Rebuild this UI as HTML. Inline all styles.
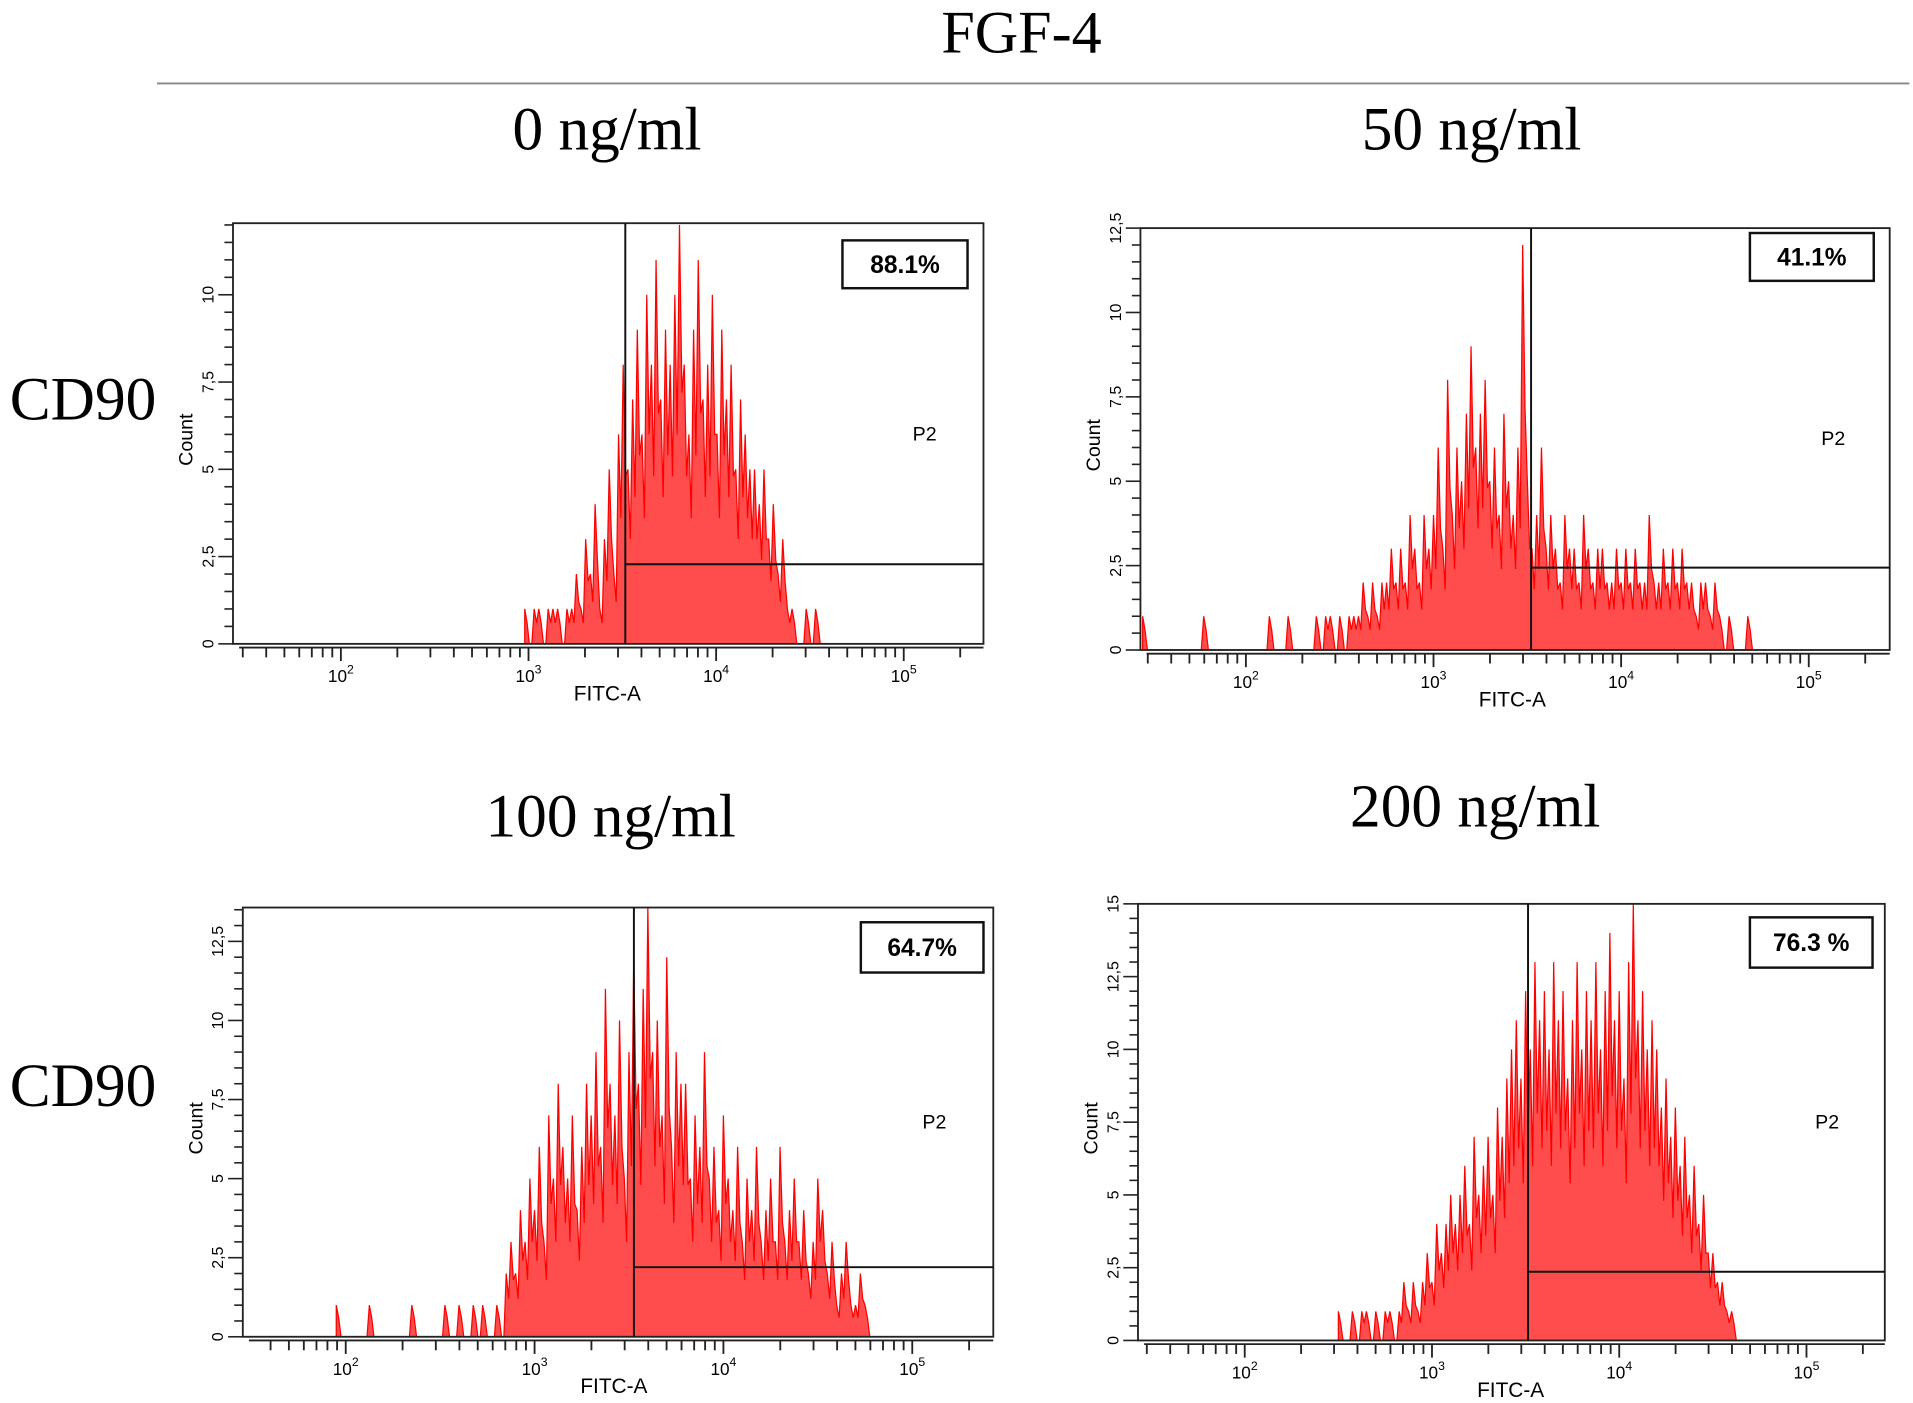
<!DOCTYPE html>
<html><head><meta charset="utf-8"><style>
html,body{margin:0;padding:0;background:#fff;width:1913px;height:1403px;overflow:hidden}
svg{display:block}
</style></head><body>
<svg id="fig" width="1913" height="1403" viewBox="0 0 1560 1144" preserveAspectRatio="none" xmlns="http://www.w3.org/2000/svg">
<text x="833" y="43" font-family="Liberation Serif, serif" font-size="49" text-anchor="middle">FGF-4</text>
<line x1="128" y1="68" x2="1557" y2="68" stroke="#888" stroke-width="1.5"/>
<text x="495" y="122" font-family="Liberation Serif, serif" font-size="50" text-anchor="middle">0 ng/ml</text>
<text x="1200" y="122" font-family="Liberation Serif, serif" font-size="50" text-anchor="middle">50 ng/ml</text>
<text x="498" y="682" font-family="Liberation Serif, serif" font-size="50" text-anchor="middle">100 ng/ml</text>
<text x="1203" y="674" font-family="Liberation Serif, serif" font-size="50" text-anchor="middle">200 ng/ml</text>
<text x="8" y="342" font-family="Liberation Serif, serif" font-size="50">CD90</text>
<text x="8" y="902" font-family="Liberation Serif, serif" font-size="50">CD90</text>
<g id="panels"></g>
</svg>
<script>
// histogram data: start log10, bin step 0.025 decades
const p1Start = 2.98;
const p1Counts = [1,0,1,1,0,1,1,1,0,1, 1,2,1,3,2,4,1,3,5,2, 6,8,5,7,9,6,10,8,11,7, 9,8,10,12,8,6,9,11,7,8, 10,6,9,7,8,5,7,6,5,5, 4,5,3,4,2,3,1,1,0,0, 1,0,1,0];
const p2Start = 1.45;
const p2Counts = [1,0,0,0,0,0,0,0,0,0, 0,0,0,1,0,0,0,0,0,0, 0,0,0,0,0,0,0,1,0,0, 0,1,0,0,0,0,0,1,0,1, 1,0,1,0,1,1,
 1,2,1,2,1,2,2,3,2,3,2,4,3,2,4,3,
 4,6,3,8,4,6,5,7,9,6,7,8,5,6,4,7,5,4,6,12,
 5,3,4,6,3,4,3,2,4,3,3,2,4,3,2,3,3,2,2,3,
 2,3,2,3,2,2,4,2,2,3,2,3,2,3,2,2,1,2,2,1,2,1,0,1,0,0,0,1];
const p3Start = 1.95;
const p3Counts = [1,0,0,0,0,0,0,1,0,0, 0,0,0,0,0,0,1,0,0,0, 0,0,0,1,0,0,1,0,0,1, 0,1,0,0,1,0,
 2,3,2,4,3,5,4,6,3,7,5,8,6,5,7,4,6,8,
 7,9,6,11,8,7,10,5,9,12,8,11,13.6,9,10,7,12,6,9,8,
 8,5,7,6,9,5,6,4,7,5,4,6,3,5,4,6,3,4,5,3,
 6,3,4,5,3,4,2,3,5,4,2,3,1,2,3,1,1,2,1,0];
const p4Start = 2.5;
const p4Counts = [1,0,0,1,0,1,1,0,1,0,1,1,0,1,2,1,2,1,
 2,3,2,4,3,4,5,4,5,6,4,7,5,6,7,5,8,7,9,10,
 11,9,12,10,13,11,12,10,13,11,12,9,11,13,10,12,11,13,10,12,14,11,12,9,13,15,11,12,10,11,
 10,8,9,7,8,6,7,5,6,4,5,3,3,2,2,1,1,0];
const yTicks = [0,2.5,5,7.5,10,12.5,15];
const yTickLabels = ["0","2,5","5","7,5","10","12,5","15"];
const percents = ["88.1%","41.1%","64.7%","76.3 %"];
const gateLog = [3.516,3.52,3.526,3.513];
const gateCount = [2.28,2.44,2.2,2.36];

const NS="http://www.w3.org/2000/svg";
const g=document.getElementById('panels');
function mk(tag,attrs,parent){const e=document.createElementNS(NS,tag);for(const k in attrs)e.setAttribute(k,attrs[k]);(parent||g).appendChild(e);return e;}
const panels=[
 {x:190,y:182,w:612,h:343,lo:1.425,dec:153,ymax:12.05,start:p1Start,counts:p1Counts,box:[687,196,102,39],p2:[754,359]},
 {x:930,y:186,w:611,h:344,lo:1.438,dec:153,ymax:12.5,start:p2Start,counts:p2Counts,box:[1427,190,101,39],p2:[1495,363]},
 {x:198,y:740,w:612,h:350,lo:1.455,dec:154,ymax:13.57,start:p3Start,counts:p3Counts,box:[702,752,100,41],p2:[762,920]},
 {x:928,y:737,w:609,h:356,lo:1.43,dec:152.7,ymax:15,start:p4Start,counts:p4Counts,box:[1427,748,100,41],p2:[1490,920]}
];
panels.forEach((p,i)=>{
 const pg=mk('g',{});
 
 
 const X=l=>p.x+(l-p.lo)*p.dec;
 const Y=c=>p.y+p.h-c/p.ymax*p.h;
 let pts=[];
 const step=0.025;
 pts.push([X(p.start),Y(0)]);
 p.counts.forEach((c,j)=>{const l=p.start+j*step;pts.push([X(l),Y(c)]);pts.push([X(l+step*0.5),Y(c*0.6)]);});
 pts.push([X(p.start+p.counts.length*step),Y(0)]);
 const hist=mk('polygon',{points:pts.map(q=>q[0].toFixed(1)+','+q[1].toFixed(1)).join(' '),fill:'#ff4d4d',stroke:'#ff0000','stroke-width':1,'stroke-linejoin':'miter'},pg);
 
 
 const fr=mk('rect',{x:p.x,y:p.y,width:p.w,height:p.h,fill:'none',stroke:'#222','stroke-width':1.5},pg);
 
 
 const gx=X(gateLog[i]);
 const gl=mk('path',{d:`M${gx},${p.y} V${p.y+p.h} M${gx},${Y(gateCount[i])} H${p.x+p.w}`,stroke:'#111','stroke-width':1.6,fill:'none'},pg);
 
 
 for(let d=1;d<=5;d++)for(let k=1;k<=9;k++){const l=d+Math.log10(k);if(l<p.lo+0.03||l>p.lo+p.w/p.dec)continue;const tx=X(l);
  mk('line',{x1:tx,y1:p.y+p.h+3,x2:tx,y2:p.y+p.h+(k==1?14:11),stroke:'#222','stroke-width':1.5},pg);
  if(k==1&&d>=2){const t=mk('text',{x:tx,y:p.y+p.h+31,'font-family':'Liberation Sans, sans-serif','font-size':14,'text-anchor':'middle'},pg);t.textContent='10';
   
   const s=mk('tspan',{dy:-7,'font-size':10},t);s.textContent=String(d);}
 }
 mk('line',{x1:p.x+5,y1:p.y+p.h+3,x2:p.x+p.w,y2:p.y+p.h+3,stroke:'#222','stroke-width':1.5},pg);
 for(let v=0;v<=p.ymax;v+=0.5){const ty=Y(v);const major=Math.abs(v/2.5-Math.round(v/2.5))<1e-6;
  mk('line',{x1:p.x-(major?12:7),y1:ty,x2:p.x,y2:ty,stroke:'#222','stroke-width':1.3},pg);}
 yTicks.forEach((v,j)=>{if(v>p.ymax+0.01)return;const ty=Y(v);
  const t=mk('text',{x:0,y:0,transform:`translate(${p.x-16},${ty}) rotate(-90)`,'font-family':'Liberation Sans, sans-serif','font-size':13,'text-anchor':'middle'},pg);
  t.textContent=yTickLabels[j];
  });
 const cy=mk('text',{transform:`translate(${p.x-33},${p.y+p.h/2+5}) rotate(-90)`,'font-family':'Liberation Sans, sans-serif','font-size':16,'text-anchor':'middle'},pg);
 cy.textContent='Count';
 
 const xt=mk('text',{x:X(3.42),y:p.y+p.h+46,'font-family':'Liberation Sans, sans-serif','font-size':17,'text-anchor':'middle'},pg);
 xt.textContent='FITC-A';
 
 const b=p.box;
 const br=mk('rect',{x:b[0],y:b[1],width:b[2],height:b[3],fill:'#fff',stroke:'#111','stroke-width':2},pg);
 
 const bt=mk('text',{x:b[0]+b[2]/2,y:b[1]+b[3]/2+7,'font-family':'Liberation Sans, sans-serif','font-size':20,'font-weight':'bold','text-anchor':'middle'},pg);
 bt.textContent=percents[i];
 
 const pl=mk('text',{x:p.p2[0],y:p.p2[1],'font-family':'Liberation Sans, sans-serif','font-size':16,'text-anchor':'middle'},pg);
 pl.textContent='P2';
 
});
</script>
</body></html>
